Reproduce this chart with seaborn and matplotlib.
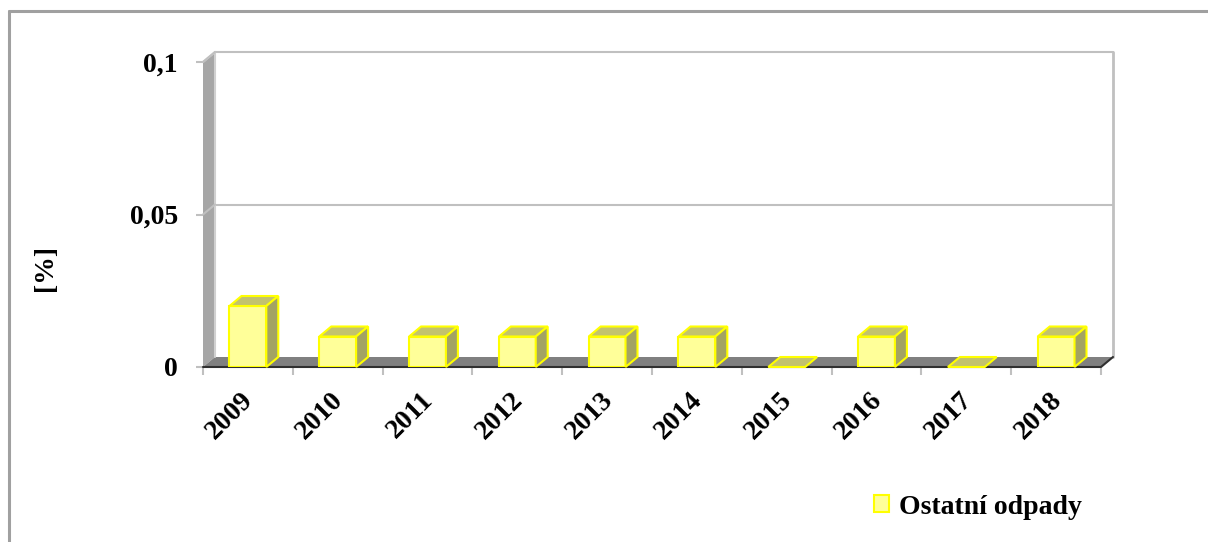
import matplotlib
matplotlib.use("Agg")
import matplotlib.pyplot as plt
import matplotlib.transforms as mtransforms
import seaborn as sns
import pandas as pd
from matplotlib.patches import Polygon, Patch
from matplotlib.lines import Line2D

years = ["2009", "2010", "2011", "2012", "2013", "2014", "2015", "2016", "2017", "2018"]
values = [0.02, 0.01, 0.01, 0.01, 0.01, 0.01, 0.0, 0.01, 0.0, 0.01]
series_name = "Ostatní odpady"
ytick_vals = [0, 0.05, 0.1]
ytick_labels = ["0", "0,05", "0,1"]
ylabel = "[%]"

sns.set_style("white")
plt.rcParams['font.family'] = ['Liberation Serif', 'DejaVu Serif']
plt.rcParams['font.weight'] = 'bold'
plt.rcParams['text.color'] = 'black'
plt.rcParams['xtick.color'] = 'black'
plt.rcParams['ytick.color'] = 'black'

W, H = 1208, 542
fig = plt.figure(figsize=(W / 100, H / 100), dpi=100)
x_left, x_right, y_bot, y_top = 203, 1101, 367, 62
ax = fig.add_axes([x_left / W, 1 - y_bot / H, (x_right - x_left) / W, (y_bot - y_top) / H])

df = pd.DataFrame({"year": years, "value": values})
FRONT = "#FFFF99"
TOP = "#C2C26E"
SIDE = "#A3A363"
EDGE = "#FFFF00"
GRID = "#C0C0C0"

sns.barplot(data=df, x="year", y="value", color=FRONT, width=0.41, edgecolor=EDGE,
            linewidth=1.5, saturation=1, ax=ax, zorder=5)
ax.set_xlim(-0.5, len(years) - 0.5)
ax.set_ylim(0, 0.1)

# depth offsets in data units
px_per_x = (x_right - x_left) / len(years)
px_per_y = (y_bot - y_top) / 0.1
dx = 12 / px_per_x
dy = 10 / px_per_y

n = len(years)
x0, x1 = -0.5, n - 0.5

# back wall gridlines and right edge
for v in ytick_vals[1:]:
    ax.plot([x0 + dx, x1 + dx], [v + dy, v + dy], color=GRID, lw=1.5, clip_on=False, zorder=1)
ax.plot([x1 + dx, x1 + dx], [dy, 0.1 + dy], color=GRID, lw=2, clip_on=False, zorder=1)

# left wall
ax.add_patch(Polygon([[x0, 0], [x0, 0.1], [x0 + dx, 0.1 + dy], [x0 + dx, dy]], closed=True,
                     facecolor="#A6A6A6", edgecolor="none", clip_on=False, zorder=2))
ax.plot([x0, x0 + dx, x0 + dx], [0.1, 0.1 + dy, dy], color="#D0D0D0", lw=1.5, clip_on=False, zorder=3)
for v in ytick_vals[1:]:
    ax.plot([x0, x0 + dx], [v, v + dy], color=GRID, lw=1.5, clip_on=False, zorder=3)

# floor
ax.add_patch(Polygon([[x0, 0], [x1, 0], [x1 + dx, dy], [x0 + dx, dy]], closed=True,
                     facecolor="#808080", edgecolor="none", clip_on=False, zorder=2))
ax.plot([x0, x1, x1 + dx], [0, 0, dy], color="#303030", lw=1.5, clip_on=False, zorder=3)

# 3D faces of bars
for p in ax.patches[:]:
    if isinstance(p, Polygon):
        continue
    bx0 = p.get_x()
    bw = p.get_width()
    bh = p.get_height()
    bx1 = bx0 + bw
    top = Polygon([[bx0, bh], [bx1, bh], [bx1 + dx, bh + dy], [bx0 + dx, bh + dy]], closed=True,
                  facecolor=TOP, edgecolor=EDGE, lw=1.5, clip_on=False, zorder=6)
    ax.add_patch(top)
    if bh > 0:
        side = Polygon([[bx1, 0], [bx1, bh], [bx1 + dx, bh + dy], [bx1 + dx, dy]], closed=True,
                       facecolor=SIDE, edgecolor=EDGE, lw=1.5, clip_on=False, zorder=6)
        ax.add_patch(side)

for s in ax.spines.values():
    s.set_visible(False)

ax.set_yticks(ytick_vals)
ax.set_yticklabels(ytick_labels, fontsize=20, fontweight="bold", color="black")
ax.tick_params(axis="y", which="major", length=5, width=1.5, color=GRID, pad=13, left=True)

ax.set_xticks(range(n))
ax.set_xticklabels(years, fontsize=20, fontweight="bold", rotation=45, ha="right",
                   va="top", rotation_mode="anchor", color="black")
ax.tick_params(axis="x", which="major", length=0, pad=15, bottom=True)
ax.set_xticks([i - 0.5 for i in range(n + 1)], minor=True)
ax.tick_params(axis="x", which="minor", length=6, width=1.5, color=GRID, bottom=True)
shift = mtransforms.ScaledTranslation(-0.07, 0, fig.dpi_scale_trans)
for lbl in ax.get_xticklabels():
    lbl.set_transform(lbl.get_transform() + shift)

ax.set_xlabel("")
ax.set_ylabel("")
ax.grid(False)

fig.text(45 / W, 1 - 268 / H, ylabel, rotation=90, ha="center", va="center",
         fontsize=20, fontweight="bold", color="black")

handle = Patch(facecolor=FRONT, edgecolor=EDGE, linewidth=1.5)
fig.legend([handle], [series_name], loc="center", bbox_to_anchor=(978 / W, 1 - 507 / H),
           frameon=False, prop={"size": 20, "weight": "bold"},
           handlelength=0.55, handleheight=0.55, handletextpad=0.35)

# outer border (top and left)
fig.add_artist(Line2D([8.5 / W, 8.5 / W], [0, 1 - 10.5 / H], color="#A0A0A0", lw=2.2,
                      transform=fig.transFigure))
fig.add_artist(Line2D([8.5 / W, 1], [1 - 10.5 / H, 1 - 10.5 / H], color="#A0A0A0", lw=2.2,
                      transform=fig.transFigure))

fig.savefig("out.png", dpi=100)
